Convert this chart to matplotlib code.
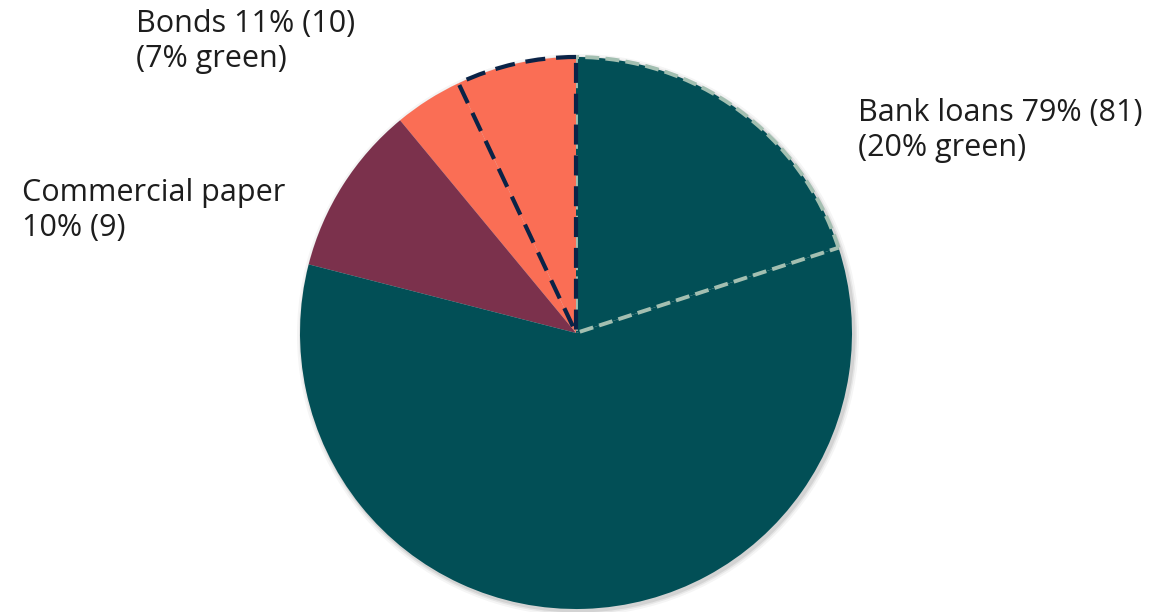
import matplotlib.pyplot as plt
from matplotlib.patches import Circle

# wedges counterclockwise from 12 o'clock, share of total in %
slices = ["Bonds (green)", "Bonds (other)", "Commercial paper", "Bank loans (other)", "Bank loans (green)"]
shares = [7, 4, 10, 59, 20]
colors = ["#FA6E55", "#FA6E55", "#7B314C", "#024F56", "#024F56"]

labels = ["Bonds 11% (10)\n(7% green)",
          "Commercial paper\n10% (9)",
          "Bank loans 79% (81)\n(20% green)"]

plt.rcParams['font.family'] = ['Open Sans', 'DejaVu Sans']

W, H = 1173, 612
fig = plt.figure(figsize=(W / 100, H / 100), dpi=100)
ax = fig.add_axes([0, 0, 1, 1])

cx, cy, r = 576, H - 333, 276

# soft shadow
for k, a in [(5, 0.04), (3, 0.06), (1.5, 0.08)]:
    ax.add_patch(Circle((cx + 2, cy - 2), r + k, color='#000000', alpha=a, lw=0, zorder=0))

wedges, _ = ax.pie(shares, colors=colors, startangle=90, counterclock=True,
                   center=(cx, cy), radius=r, frame=True,
                   wedgeprops=dict(linewidth=0))
ax.set_xlim(0, W)
ax.set_ylim(0, H)
ax.set_aspect('equal')
ax.axis('off')

# green share outlines
wedges[4].set_edgecolor('#A3BFB1')
wedges[4].set_linestyle((0, (3.6, 1.6)))
wedges[4].set_linewidth(2.8)
wedges[4].set_zorder(3)

wedges[0].set_edgecolor('#0A2347')
wedges[0].set_linestyle((0, (4.8, 2.6)))
wedges[0].set_linewidth(3)
wedges[0].set_zorder(4)

txt = dict(fontsize=22, color='#1d1d1d', va='top', ha='left', linespacing=1.22)
ax.text(136, H - 9, labels[0], **txt)
ax.text(22, H - 178, labels[1], **txt)
ax.text(858, H - 98, labels[2], **txt)

fig.savefig("out.png", dpi=100)
